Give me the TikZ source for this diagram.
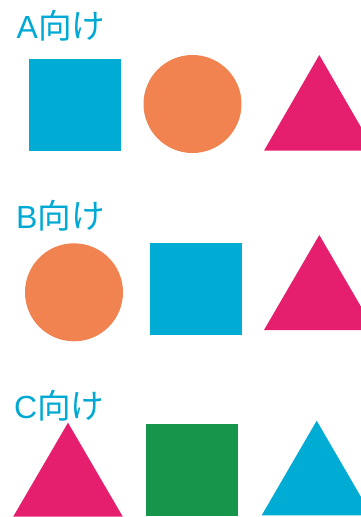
\documentclass[tikz,border=0pt]{standalone}
\usepackage{fontspec}
\setmainfont{Liberation Sans}
\newfontfamily\jpfont[Scale=1.05]{Noto Sans CJK JP}
\definecolor{cyanc}{HTML}{00ACD3}
\definecolor{orangec}{HTML}{F08350}
\definecolor{magentac}{HTML}{E61E6E}
\definecolor{greenc}{HTML}{17954B}
\definecolor{textc}{HTML}{00A9D3}
\newcommand{\lbltext}[1]{#1{\jpfont 向け}}
\begin{document}
\begin{tikzpicture}[x=1pt,y=-1pt,
  lbl/.style={anchor=base west,inner sep=0pt,text=textc,font=\fontsize{32}{32}\selectfont}]
\useasboundingbox (0,0) rectangle (361,517);
\clip (0,0) rectangle (361,517);
% row A
\node[lbl] (la) at (16.5,38.5) {\lbltext{A}};
\fill[cyanc] (29,59) rectangle (121,151);
\fill[orangec] (192.5,104) circle (49);
\fill[magentac] (319.3,55) -- (374.6,150.7) -- (264,150.7) -- cycle;
% row B
\node[lbl] (lb) at (16,228.5) {\lbltext{B}};
\fill[orangec] (74,292.3) circle (49);
\fill[cyanc] (150,242.7) rectangle (242,335);
\fill[magentac] (319.3,235) -- (374.6,330) -- (264,330) -- cycle;
% row C
\node[lbl] (lc) at (14,418.5) {\lbltext{C}};
\fill[magentac] (68,422.7) -- (122.7,516.5) -- (13.3,516.5) -- cycle;
\fill[greenc] (146,424) rectangle (238,515.7);
\fill[cyanc] (316.7,420.7) -- (371.7,515.3) -- (261.7,515.3) -- cycle;
\end{tikzpicture}
\end{document}
